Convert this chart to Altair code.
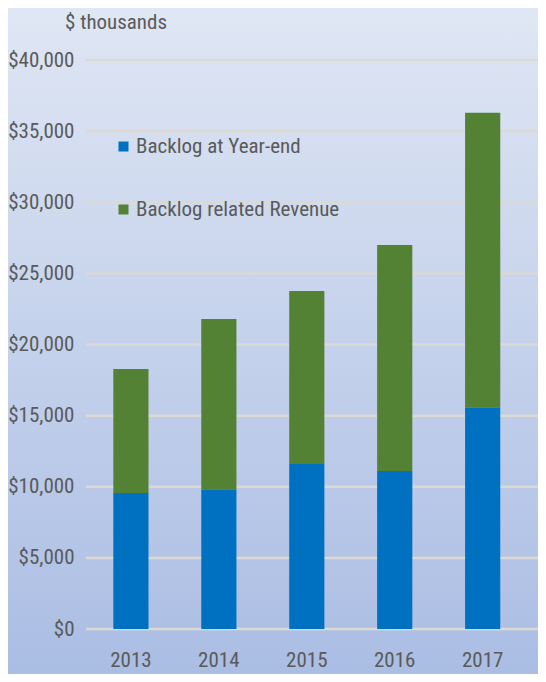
import altair as alt
import pandas as pd

years = ["2013", "2014", "2015", "2016", "2017"]
backlog_year_end = [9560, 9820, 11600, 11100, 15590]
backlog_revenue = [8710, 11970, 12160, 15900, 20710]
series_names = ["Backlog at Year-end", "Backlog related Revenue"]
series_colors = ["#0070c0", "#548235"]
y_ticks = [0, 5000, 10000, 15000, 20000, 25000, 30000, 35000, 40000]
unit_title = ["$ thousands"]

FONT = "Liberation Sans Narrow, Arial Narrow, Roboto Condensed, DejaVu Sans Condensed, sans-serif"
TXT = "#5a5a5a"
W, H = 452, 569

rows = []
for i, y in enumerate(years):
    rows.append({"year": y, "series": series_names[0], "value": backlog_year_end[i], "ord": 0})
    rows.append({"year": y, "series": series_names[1], "value": backlog_revenue[i], "ord": 1})
df = pd.DataFrame(rows)

bg = alt.Chart(pd.DataFrame({"a": [0]})).mark_rect(
    color=alt.LinearGradient(
        gradient="linear", x1=0, y1=0, x2=0, y2=1,
        stops=[alt.GradientStop(color="#e0e7f4", offset=0),
               alt.GradientStop(color="#a9bce3", offset=1)],
    )
).encode(x=alt.value(-80), x2=alt.value(W + 20), y=alt.value(-60), y2=alt.value(H + 60))

title = alt.Chart(pd.DataFrame({"t": unit_title})).mark_text(
    font=FONT, fontSize=21, color=TXT, align="left", baseline="middle"
).encode(text="t:N", x=alt.value(-21), y=alt.value(-37))

grid = alt.Chart(pd.DataFrame({"t": y_ticks})).mark_rule(
    color="#dbd9d4", strokeWidth=2.5
).encode(
    y=alt.Y("t:Q", scale=alt.Scale(domain=[0, 40000])),
    x=alt.value(0), x2=alt.value(W),
)

bars = alt.Chart(df).mark_bar().encode(
    x=alt.X("year:N", sort=years,
            scale=alt.Scale(paddingInner=0.6, paddingOuter=0.37, align=0.42),
            axis=alt.Axis(title=None, labelAngle=0, domain=False, ticks=False,
                          labelPadding=37, labelFont=FONT, labelFontSize=21,
                          labelColor=TXT, labelBaseline="alphabetic", zindex=2)),
    y=alt.Y("value:Q", stack="zero",
            scale=alt.Scale(domain=[0, 40000], nice=False),
            axis=alt.Axis(title=None, values=y_ticks, format="$,.0f", domain=False,
                          ticks=False, grid=False, labelPadding=12, labelFont=FONT,
                          labelFontSize=21, labelColor=TXT, zindex=2)),
    color=alt.Color("series:N",
                    scale=alt.Scale(domain=series_names, range=series_colors),
                    legend=alt.Legend(title=None, orient="none", legendX=27, legendY=76,
                                      symbolType="square", symbolSize=100,
                                      symbolStrokeWidth=0, labelFont=FONT,
                                      labelFontSize=21, labelColor=TXT, labelLimit=0,
                                      rowPadding=41, labelOffset=2)),
    order=alt.Order("ord:Q", sort="ascending"),
)

chart = alt.layer(bg, title, grid, bars).properties(
    width=W, height=H,
    autosize=alt.AutoSizeParams(type="none"),
    padding={"left": 78, "top": 52, "right": 0, "bottom": 45},
).configure_view(stroke=None).configure(background="#a9bce3")

chart.save("out.html", embed_options={"renderer": "svg", "actions": False})
